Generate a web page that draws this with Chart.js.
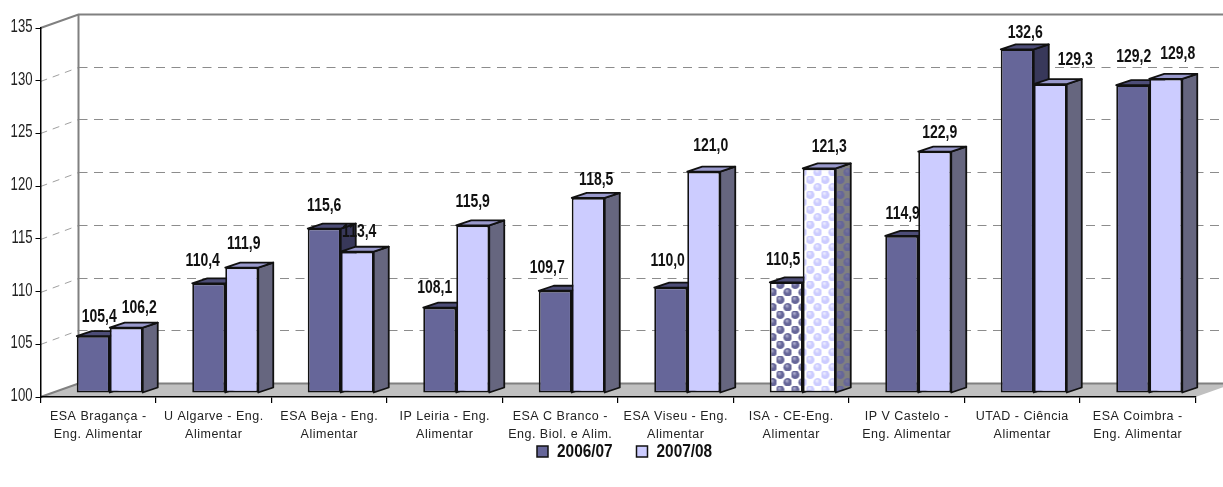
<!DOCTYPE html>
<html>
<head>
<meta charset="utf-8">
<script src="https://cdn.jsdelivr.net/npm/chart.js@4/dist/chart.umd.min.js"></script>
<style>
  html, body { margin: 0; padding: 0; background: #fff; }
  #wrap { width: 1223px; height: 487px; }
</style>
</head>
<body>
<div id="wrap"><canvas id="chart" role="img" aria-label="Gráfico de barras 2006/07 e 2007/08"></canvas></div>
<script>
const categories = [
  ['ESA Bragança -', 'Eng. Alimentar'],
  ['U Algarve - Eng.', 'Alimentar'],
  ['ESA Beja - Eng.', 'Alimentar'],
  ['IP Leiria - Eng.', 'Alimentar'],
  ['ESA C Branco -', 'Eng. Biol. e Alim.'],
  ['ESA Viseu - Eng.', 'Alimentar'],
  ['ISA - CE-Eng.', 'Alimentar'],
  ['IP V Castelo -', 'Eng. Alimentar'],
  ['UTAD - Ciência', 'Alimentar'],
  ['ESA Coimbra -', 'Eng. Alimentar'],
];
const seriesNames = ['2006/07', '2007/08'];
const values0607 = [105.4, 110.4, 115.6, 108.1, 109.7, 110.0, 110.5, 114.9, 132.6, 129.2];
const values0708 = [106.2, 111.9, 113.4, 115.9, 118.5, 121.0, 121.3, 122.9, 129.3, 129.8];
const yTicks = [100, 105, 110, 115, 120, 125, 130, 135];
const texturedCategory = 6; // ISA bars have the bubble texture

// hand-placed value labels in the original, offset from the bar's top centre
const labelNudge0607 = [[6,-19],[-6,-22],[0,-22],[-5,-19],[-8,-23],[-3,-26],[-3,-22],[1,-22],[8,-16],[1,-28]];
const labelNudge0708 = [[13,-19],[2,-23],[2,-20],[0,-23],[8,-18],[7,-25],[10,-21],[5,-18],[25,-24],[12,-25]];

const SANS = '"Liberation Sans", Arial, sans-serif';

const AREA_BOTTOM = 397;
const WALL_DX = 38, WALL_DY = 13.5;   // front axis to back wall
const BAR_DX = 11.5, BAR_DY = -4;     // front axis to front of the bars
const SIDE_DX = 15, SIDE_DY = -5;     // depth of one bar

const DARK = '#666699', LIGHT = '#ccccff';

function bubbles(bg, ball, shine) {
  const c = document.createElement('canvas');
  c.width = c.height = 15;
  const g = c.getContext('2d');
  g.fillStyle = bg;
  g.fillRect(0, 0, 15, 15);
  [[3.7, 3.7], [11.2, 11.2]].forEach(([x, y]) => {
    const r = g.createRadialGradient(x - 1, y - 1.6, 0.4, x, y, 4.4);
    r.addColorStop(0, shine);
    r.addColorStop(0.5, ball);
    r.addColorStop(1, ball);
    g.fillStyle = r;
    g.beginPath();
    g.arc(x, y, 4.3, 0, Math.PI * 2);
    g.fill();
  });
  return g.createPattern(c, 'repeat');
}

const patDark = bubbles('#ffffff', '#666699', '#b0b0d0');
const patLight = bubbles('#ffffff', '#ccccff', '#eeeeff');
const patSide = bubbles('#808080', '#666699', '#777799');

function colorsFor(color, pattern) {
  return categories.map((c, i) => (i === texturedCategory ? pattern : color));
}

const faces = [
  { side: '#38385a', top: '#4d4d77' },
  { side: '#66667f', top: '#9999cc' },
];

// text in the reference is squeezed sideways, no narrow font is installed
function squeezed(ctx, text, x, y, sx, align) {
  ctx.save();
  ctx.translate(x, y);
  ctx.scale(sx, 1);
  ctx.textAlign = align;
  ctx.textBaseline = 'middle';
  ctx.fillText(text, 0, 0);
  ctx.restore();
}

function drawBar3d(ctx, bar, i, face) {
  const p = bar.getProps(['x', 'y', 'base', 'width'], true);
  const r = p.x + p.width / 2, l = p.x - p.width / 2;
  ctx.lineWidth = 1.8;
  ctx.strokeStyle = '#111';
  ctx.lineJoin = 'round';
  ctx.fillStyle = i === texturedCategory ? patSide : face.side;
  ctx.beginPath();
  ctx.moveTo(r, p.y);
  ctx.lineTo(r + SIDE_DX, p.y + SIDE_DY);
  ctx.lineTo(r + SIDE_DX, p.base + SIDE_DY);
  ctx.lineTo(r, p.base);
  ctx.closePath();
  ctx.fill();
  ctx.stroke();
  ctx.fillStyle = face.top;
  ctx.beginPath();
  ctx.moveTo(l, p.y);
  ctx.lineTo(l + SIDE_DX, p.y + SIDE_DY);
  ctx.lineTo(r + SIDE_DX, p.y + SIDE_DY);
  ctx.lineTo(r, p.y);
  ctx.closePath();
  ctx.fill();
  ctx.stroke();
  bar.draw(ctx);
}

const depth3d = {
  id: 'depth3d',
  beforeDraw(chart) {
    const { ctx, chartArea: a, scales: { y } } = chart;
    const right = a.right + WALL_DX;
    const backX = a.left + WALL_DX;
    const bottom = y.getPixelForValue(100);
    ctx.save();
    ctx.fillStyle = '#fff';
    ctx.fillRect(0, 0, chart.width, chart.height);

    // dashed grid on wall and side
    ctx.lineWidth = 1;
    yTicks.slice(1, -1).forEach(v => {
      const py = Math.round(y.getPixelForValue(v)) + 0.5;
      const by = py - 14;
      ctx.strokeStyle = '#8c8c8c';
      ctx.setLineDash([9, 6.5]);
      ctx.beginPath();
      ctx.moveTo(backX, by);
      ctx.lineTo(right, by);
      ctx.stroke();
      ctx.strokeStyle = '#a0a0a0';
      ctx.setLineDash([7, 6]);
      ctx.beginPath();
      ctx.moveTo(a.left, py);
      ctx.lineTo(backX, by);
      ctx.stroke();
    });
    ctx.setLineDash([]);

    // floor
    ctx.fillStyle = '#c0c0c0';
    ctx.strokeStyle = '#808080';
    ctx.beginPath();
    ctx.moveTo(a.left, bottom);
    ctx.lineTo(a.right, bottom);
    ctx.lineTo(right, bottom - WALL_DY);
    ctx.lineTo(backX, bottom - WALL_DY);
    ctx.closePath();
    ctx.fill();
    ctx.lineWidth = 2;
    ctx.beginPath();
    ctx.moveTo(a.left, bottom);
    ctx.lineTo(backX, bottom - WALL_DY);
    ctx.lineTo(right, bottom - WALL_DY);
    ctx.stroke();

    // wall outline
    const top = y.getPixelForValue(135);
    ctx.beginPath();
    ctx.moveTo(a.left, top);
    ctx.lineTo(backX, top - WALL_DY);
    ctx.lineTo(right, top - WALL_DY);
    ctx.moveTo(backX, top - WALL_DY);
    ctx.lineTo(backX, bottom - WALL_DY);
    ctx.stroke();
    ctx.restore();
    ctx.letterSpacing = '0.5px';
  },
  beforeDatasetsDraw(chart) {
    const { ctx } = chart;
    ctx.letterSpacing = '0px';
    // left series first so the right bar covers its side face
    ctx.save();
    ctx.translate(BAR_DX, BAR_DY);
    [0, 1].forEach(d => {
      chart.getDatasetMeta(d).data.forEach((bar, i) => drawBar3d(ctx, bar, i, faces[d]));
    });
    ctx.restore();
  },
  beforeDatasetDraw() {
    return false;
  },
  afterDatasetsDraw(chart) {
    const { ctx, scales: { y } } = chart;
    const nudges = [labelNudge0607, labelNudge0708];
    ctx.save();
    ctx.font = 'bold 17.5px ' + SANS;
    ctx.fillStyle = '#111';
    chart.data.datasets.forEach((ds, d) => {
      chart.getDatasetMeta(d).data.forEach((bar, i) => {
        const text = ds.data[i].toFixed(1).replace('.', ',');
        squeezed(ctx, text, bar.x + BAR_DX + nudges[d][i][0], bar.y + BAR_DY + nudges[d][i][1], 0.8, 'center');
      });
    });

    // y tick labels
    ctx.font = '18px ' + SANS;
    ctx.fillStyle = '#222';
    y.ticks.forEach(t => {
      squeezed(ctx, String(t.value), 32.5, y.getPixelForValue(t.value) - 1, 0.73, 'right');
    });

    // legend
    ctx.font = 'bold 17.5px ' + SANS;
    seriesNames.forEach((name, i) => {
      const x = 537 + i * 99.5;
      ctx.fillStyle = i === 0 ? DARK : LIGHT;
      ctx.strokeStyle = '#111';
      ctx.lineWidth = 1.5;
      ctx.fillRect(x, 446, 11, 11);
      ctx.strokeRect(x, 446, 11, 11);
      ctx.fillStyle = '#111';
      squeezed(ctx, name, x + 20, 452, 0.88, 'left');
    });
    ctx.restore();
  },
};

new Chart(document.getElementById('chart'), {
  type: 'bar',
  plugins: [depth3d],
  data: {
    labels: categories,
    datasets: [
      { label: seriesNames[0], data: values0607, base: 100, backgroundColor: colorsFor(DARK, patDark) },
      { label: seriesNames[1], data: values0708, base: 100, backgroundColor: colorsFor(LIGHT, patLight) },
    ],
  },
  options: {
    responsive: true,
    maintainAspectRatio: false,
    animation: false,
    categoryPercentage: 66 / 115.5,
    barPercentage: 1,
    datasets: { bar: { borderColor: '#111', borderWidth: 1.8, borderSkipped: false } },
    layout: { padding: { top: 28, right: 27.5, bottom: 0, left: 0 } },
    plugins: {
      tooltip: { enabled: false },
      legend: { display: false },
    },
    scales: {
      x: {
        afterFit(s) { s.height = s.chart.height - AREA_BOTTOM; },
        grid: { drawOnChartArea: false, tickLength: 6, color: '#000', lineWidth: 1.2 },
        border: { color: '#000', width: 1.5 },
        ticks: {
          color: '#222',
          padding: 4,
          maxRotation: 0,
          autoSkip: false,
          font: { family: SANS, size: 12.5, lineHeight: 1.45 },
        },
      },
      y: {
        min: 100,
        max: 135,
        afterFit(s) { s.width = 40.5; },
        afterBuildTicks(s) { s.ticks = yTicks.map(v => ({ value: v })); },
        grid: { drawOnChartArea: false, tickLength: 5, color: '#000', lineWidth: 1 },
        border: { color: '#000', width: 1.5 },
        ticks: { display: false },
      },
    },
  },
});
</script>
</body>
</html>
